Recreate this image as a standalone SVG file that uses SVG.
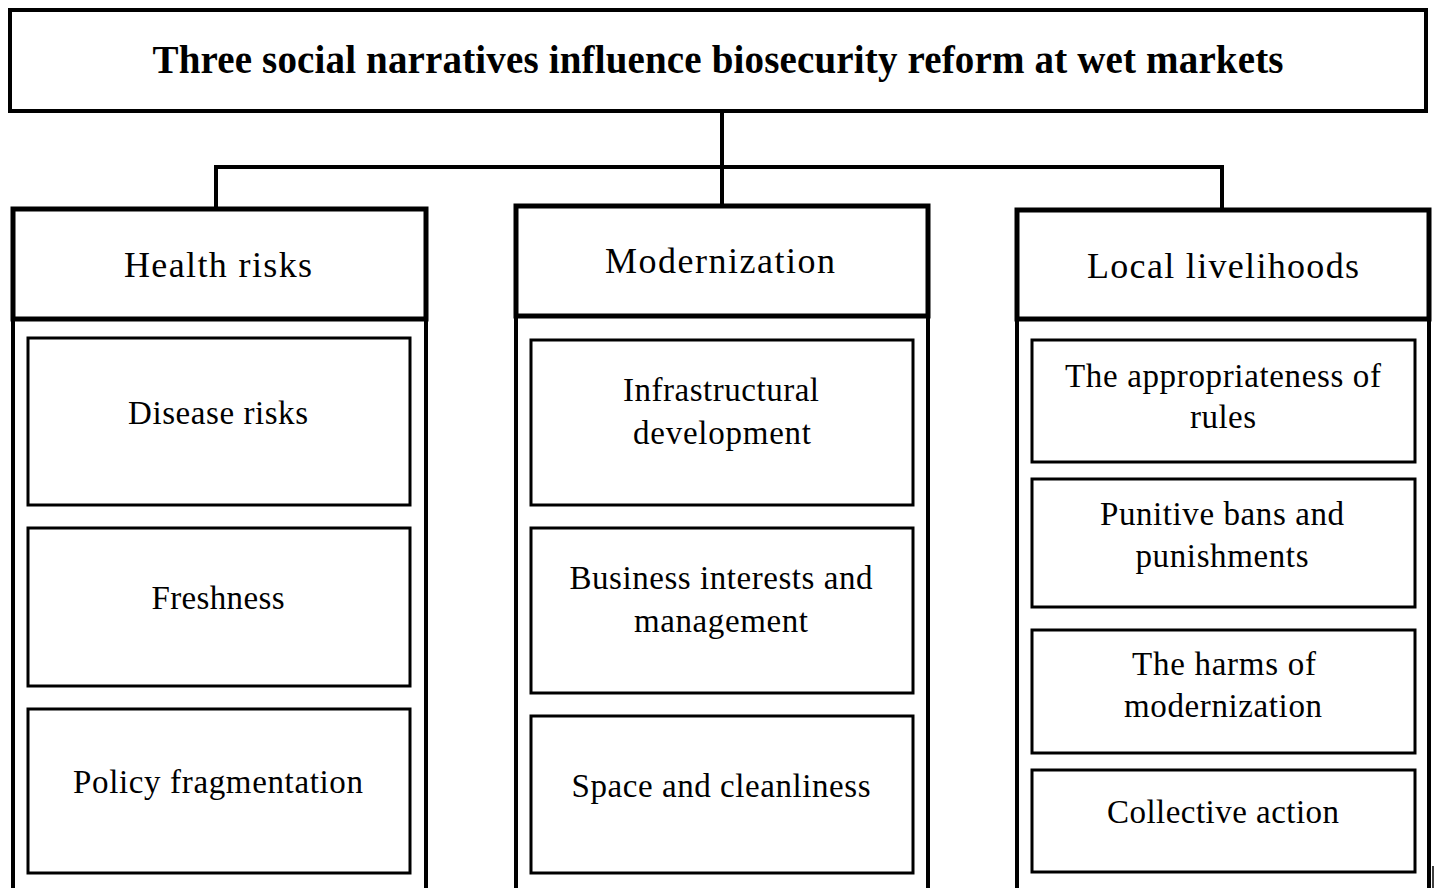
<svg xmlns="http://www.w3.org/2000/svg" width="1434" height="888" viewBox="0 0 1434 888">
<style>
.bg{fill:#fff}
.title{fill:#fff;stroke:#000;stroke-width:4}
.hdr{fill:#fff;stroke:#000;stroke-width:5}
.side{fill:none;stroke:#000;stroke-width:4}
.item{fill:#fff;stroke:#000;stroke-width:3}
.conn{fill:none;stroke:#000;stroke-width:4}
text{font-family:"Liberation Serif","Times New Roman",serif;fill:#000;text-anchor:middle}
.t{font-size:39px;font-weight:bold}
.h{font-size:36px}
.s{font-size:33px}
</style>
<rect class="bg" x="0" y="0" width="1434" height="888"/>
<g id="connectors">
<path class="conn" d="M722 111 V206"/>
<path class="conn" d="M216 209 V167 H1222 V210"/>
</g>
<g id="title">
<rect class="title" x="10" y="10" width="1416" height="101"/>
<text class="t" x="718" y="73" textLength="1131" lengthAdjust="spacing">Three social narratives influence biosecurity reform at wet markets</text>
</g>
<g id="col-health">
<path class="side" d="M13 892 V319 M426 892 V319"/>
<rect class="hdr" x="13" y="209" width="413" height="110"/>
<text class="h" x="218" y="277" textLength="188" lengthAdjust="spacing">Health risks</text>
</g>
<g id="health-1">
<rect class="item" x="28" y="338" width="382" height="167"/>
<text class="s" x="218" y="424" textLength="180" lengthAdjust="spacing">Disease risks</text>
</g>
<g id="health-2">
<rect class="item" x="28" y="528" width="382" height="158"/>
<text class="s" x="218" y="609" textLength="133" lengthAdjust="spacing">Freshness</text>
</g>
<g id="health-3">
<rect class="item" x="28" y="709" width="382" height="164"/>
<text class="s" x="218" y="793" textLength="290" lengthAdjust="spacing">Policy fragmentation</text>
</g>
<g id="col-modern">
<path class="side" d="M516 892 V316 M928 892 V316"/>
<rect class="hdr" x="516" y="206" width="412" height="110"/>
<text class="h" x="720" y="273" textLength="230" lengthAdjust="spacing">Modernization</text>
</g>
<g id="modern-1">
<rect class="item" x="531" y="340" width="382" height="165"/>
<text class="s" x="721" y="401" textLength="196" lengthAdjust="spacing">Infrastructural</text>
<text class="s" x="722" y="444" textLength="178" lengthAdjust="spacing">development</text>
</g>
<g id="modern-2">
<rect class="item" x="531" y="528" width="382" height="165"/>
<text class="s" x="721" y="589" textLength="303" lengthAdjust="spacing">Business interests and</text>
<text class="s" x="721" y="632" textLength="174" lengthAdjust="spacing">management</text>
</g>
<g id="modern-3">
<rect class="item" x="531" y="716" width="382" height="157"/>
<text class="s" x="721" y="797" textLength="299" lengthAdjust="spacing">Space and cleanliness</text>
</g>
<g id="col-local">
<path class="side" d="M1017 892 V319 M1429 892 V319"/>
<rect class="hdr" x="1017" y="210" width="412" height="109"/>
<text class="h" x="1223" y="278" textLength="272" lengthAdjust="spacing">Local livelihoods</text>
</g>
<g id="local-1">
<rect class="item" x="1032" y="340" width="383" height="122"/>
<text class="s" x="1223" y="387" textLength="316" lengthAdjust="spacing">The appropriateness of</text>
<text class="s" x="1223" y="428" textLength="66" lengthAdjust="spacing">rules</text>
</g>
<g id="local-2">
<rect class="item" x="1032" y="479" width="383" height="128"/>
<text class="s" x="1222" y="525" textLength="244" lengthAdjust="spacing">Punitive bans and</text>
<text class="s" x="1222" y="567" textLength="173" lengthAdjust="spacing">punishments</text>
</g>
<g id="local-3">
<rect class="item" x="1032" y="630" width="383" height="123"/>
<text class="s" x="1224" y="675" textLength="184" lengthAdjust="spacing">The harms of</text>
<text class="s" x="1223" y="717" textLength="198" lengthAdjust="spacing">modernization</text>
</g>
<g id="local-4">
<rect class="item" x="1032" y="770" width="383" height="102"/>
<text class="s" x="1223" y="823" textLength="232" lengthAdjust="spacing">Collective action</text>
</g>
<path d="M1433 866 V888" stroke="#000" stroke-width="1.5" fill="none"/>
</svg>
